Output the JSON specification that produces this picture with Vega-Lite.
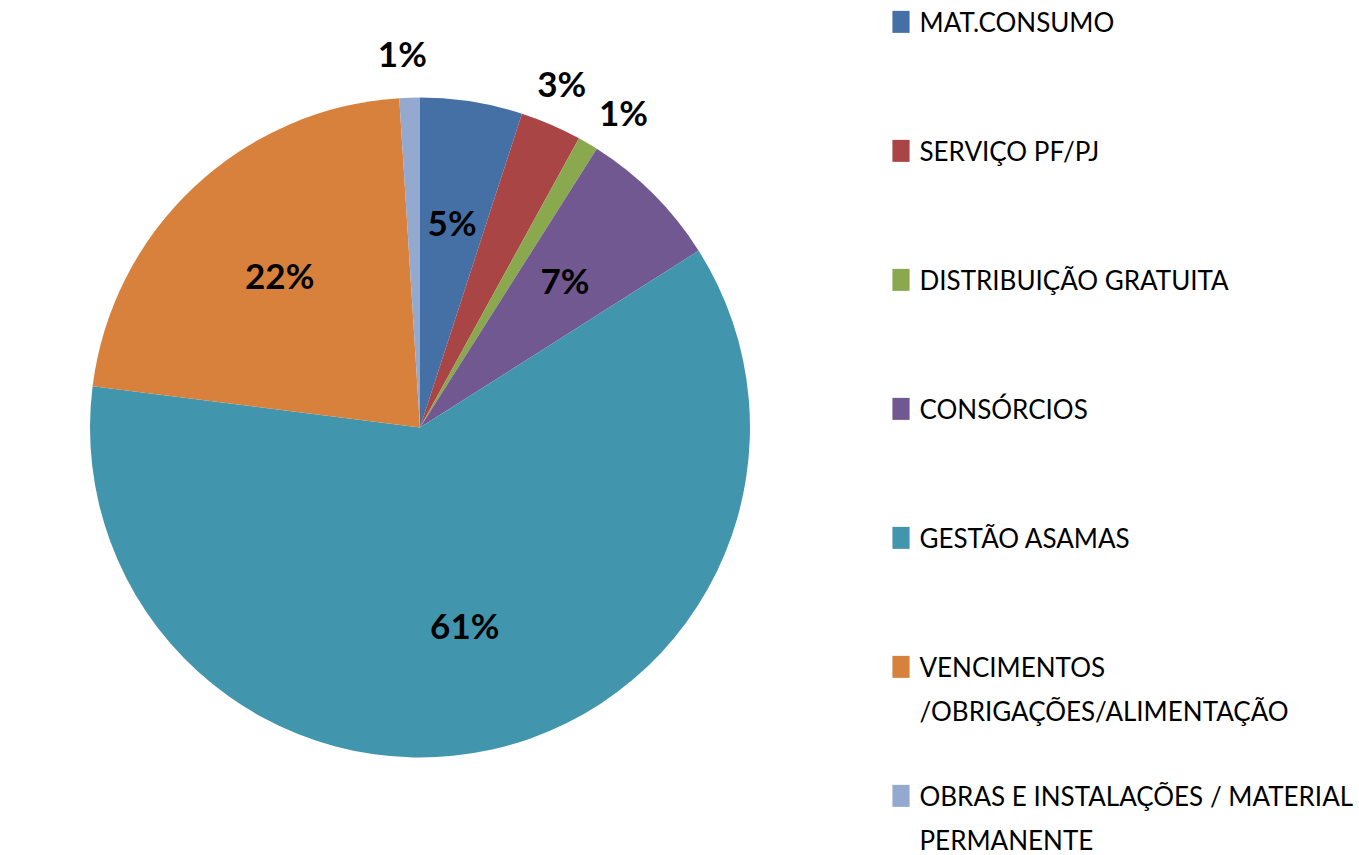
{
  "$schema": "https://vega.github.io/schema/vega-lite/v6.json",
  "padding": 0,
  "spacing": 52,
  "background": "white",
  "config": {"view": {"stroke": null}, "font": "Lato"},
  "data": {
    "values": [
      {"ordem": 1, "categoria": "MAT.CONSUMO", "legenda": "MAT.CONSUMO", "valor": 0.05},
      {"ordem": 2, "categoria": "SERVIÇO PF/PJ", "legenda": "SERVIÇO PF/PJ", "valor": 0.03},
      {"ordem": 3, "categoria": "DISTRIBUIÇÃO GRATUITA", "legenda": "DISTRIBUIÇÃO GRATUITA", "valor": 0.01},
      {"ordem": 4, "categoria": "CONSÓRCIOS", "legenda": "CONSÓRCIOS", "valor": 0.07},
      {"ordem": 5, "categoria": "GESTÃO ASAMAS", "legenda": "GESTÃO ASAMAS", "valor": 0.61},
      {"ordem": 6, "categoria": "VENCIMENTOS /OBRIGAÇÕES/ALIMENTAÇÃO", "legenda": "VENCIMENTOS|/OBRIGAÇÕES/ALIMENTAÇÃO", "valor": 0.22},
      {"ordem": 7, "categoria": "OBRAS E INSTALAÇÕES / MATERIAL PERMANENTE", "legenda": "OBRAS E INSTALAÇÕES / MATERIAL|PERMANENTE", "valor": 0.01}
    ]
  },
  "hconcat": [
    {
      "width": 840,
      "height": 855,
      "encoding": {
        "theta": {"field": "valor", "type": "quantitative", "stack": true},
        "order": {"field": "ordem", "type": "quantitative"},
        "color": {
          "field": "categoria",
          "type": "nominal",
          "legend": null,
          "scale": {
            "domain": ["MAT.CONSUMO", "SERVIÇO PF/PJ", "DISTRIBUIÇÃO GRATUITA", "CONSÓRCIOS", "GESTÃO ASAMAS", "VENCIMENTOS /OBRIGAÇÕES/ALIMENTAÇÃO", "OBRAS E INSTALAÇÕES / MATERIAL PERMANENTE"],
            "range": ["#4570A6", "#A94545", "#8AA84E", "#715891", "#4196AE", "#D8813C", "#93A9CF"]
          }
        }
      },
      "layer": [
        {"mark": {"type": "arc", "outerRadius": 330}},
        {
          "mark": {"type": "text", "radius": 205, "fontSize": 35, "fontWeight": "bold"},
          "encoding": {
            "color": {"value": "black"},
            "text": {"condition": {"test": "datum.valor >= 0.05", "field": "valor", "format": ".0%"}, "value": ""}
          }
        },
        {
          "mark": {"type": "text", "radius": 372, "fontSize": 35, "fontWeight": "bold", "dx": -6},
          "encoding": {
            "color": {"value": "black"},
            "text": {"condition": {"test": "datum.valor < 0.05 && datum.ordem != 3", "field": "valor", "format": ".0%"}, "value": ""}
          }
        },
        {
          "mark": {"type": "text", "radius": 372, "fontSize": 35, "fontWeight": "bold", "dx": 14, "dy": 8},
          "encoding": {
            "color": {"value": "black"},
            "text": {"condition": {"test": "datum.ordem == 3", "field": "valor", "format": ".0%"}, "value": ""}
          }
        }
      ]
    },
    {
      "width": 458,
      "height": 855,
      "encoding": {
        "x": {"datum": 0, "type": "quantitative", "scale": {"domain": [0, 1]}, "axis": null},
        "y": {
          "field": "legenda",
          "type": "nominal",
          "sort": {"field": "ordem"},
          "scale": {"type": "point", "padding": 0.314, "align": 0.27},
          "axis": null
        }
      },
      "layer": [
        {
          "mark": {"type": "point", "shape": "M-0.78,-1h1.56v2h-1.56z", "filled": true, "opacity": 1, "size": 484, "strokeWidth": 0},
          "encoding": {
            "color": {"field": "categoria", "type": "nominal", "legend": null}
          }
        },
        {
          "mark": {"type": "text", "align": "left", "baseline": "alphabetic", "dx": 18.5, "dy": 10, "fontSize": 26, "lineBreak": "|", "lineHeight": 44, "color": "black"},
          "encoding": {"text": {"field": "legenda"}}
        }
      ]
    }
  ]
}
